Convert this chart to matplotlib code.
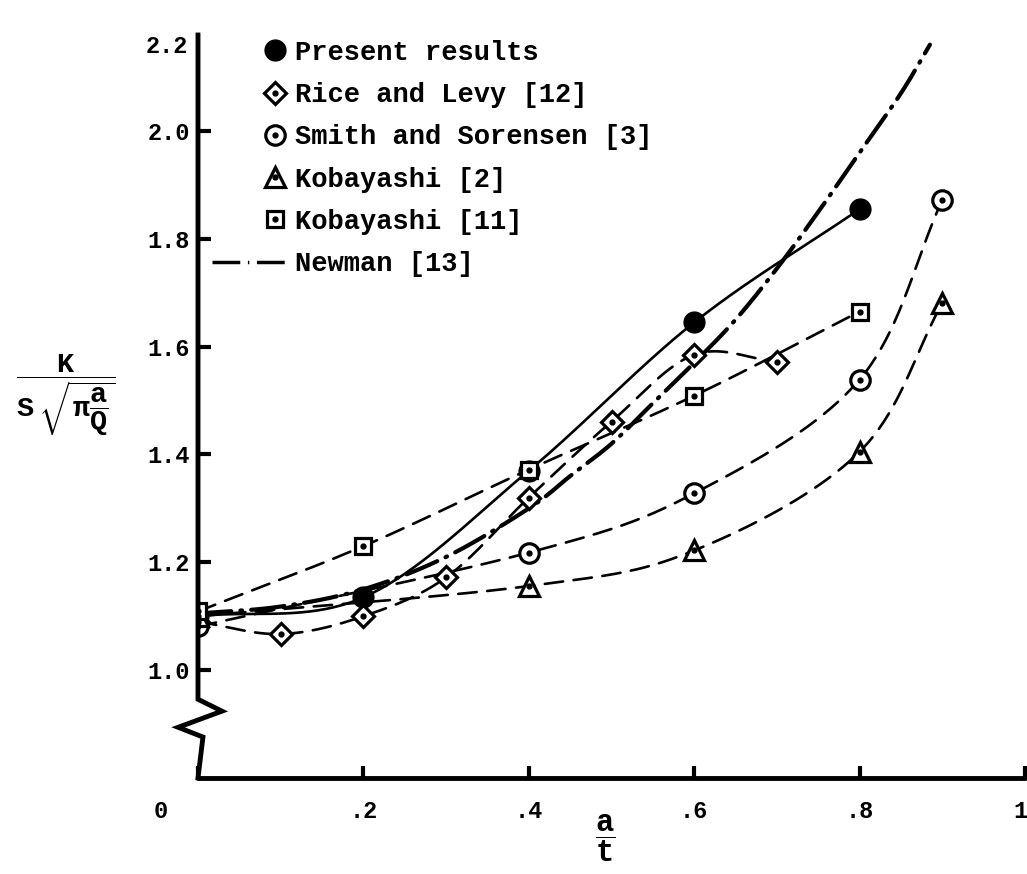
import numpy as np
import matplotlib
matplotlib.use('Agg')
import matplotlib.pyplot as plt
from matplotlib.lines import Line2D
from matplotlib.legend_handler import HandlerTuple, HandlerLine2D
import matplotlib.transforms as mtransforms

plt.rcParams['font.family'] = ['Liberation Mono', 'DejaVu Sans']
plt.rcParams['font.weight'] = 'bold'
plt.rcParams['mathtext.fontset'] = 'custom'
plt.rcParams['mathtext.rm'] = 'Liberation Mono:bold'
plt.rcParams['mathtext.it'] = 'Liberation Mono:bold'
plt.rcParams['mathtext.bf'] = 'Liberation Mono:bold'

# ---------------- data ----------------
present_x = [0.0, 0.2, 0.4, 0.6, 0.8]
present_y = [1.10, 1.135, 1.37, 1.645, 1.855]

rice_x = [0.0, 0.1, 0.2, 0.3, 0.4, 0.5, 0.6, 0.7]
rice_y = [1.09, 1.067, 1.10, 1.172, 1.32, 1.461, 1.585, 1.572]

smith_x = [0.0, 0.4, 0.6, 0.8, 0.9]
smith_y = [1.081, 1.218, 1.328, 1.539, 1.872]

koba2_x = [0.0, 0.4, 0.6, 0.8, 0.9]
koba2_y = [1.10, 1.156, 1.222, 1.405, 1.681]

koba11_x = [0.0, 0.2, 0.4, 0.6, 0.8]
koba11_y = [1.109, 1.23, 1.372, 1.509, 1.665]

newman_x = [0.0, 0.1, 0.2, 0.3, 0.4, 0.45, 0.5, 0.55, 0.6, 0.65, 0.7, 0.75, 0.8, 0.85, 0.885]
newman_y = [1.105, 1.118, 1.15, 1.21, 1.30, 1.36, 1.42, 1.495, 1.57, 1.65, 1.745, 1.85, 1.96, 2.07, 2.16]

xticks = [0.0, 0.2, 0.4, 0.6, 0.8, 1.0]
xticklabels = ['0', '.2', '.4', '.6', '.8', '1']
yticks = [1.0, 1.2, 1.4, 1.6, 1.8, 2.0]
yticklabels = ['1.0', '1.2', '1.4', '1.6', '1.8', '2.0']

labels = ['Present results', 'Rice and Levy [12]', 'Smith and Sorensen [3]',
          'Kobayashi [2]', 'Kobayashi [11]', 'Newman [13]']


def smooth(xs, ys, n=40):
    """Catmull-Rom curve through the given points (for drawing only)."""
    P = np.column_stack([xs, ys]).astype(float)
    P = np.vstack([2 * P[0] - P[1], P, 2 * P[-1] - P[-2]])
    out = []
    t = np.linspace(0, 1, n, endpoint=False)[:, None]
    for i in range(1, len(P) - 2):
        p0, p1, p2, p3 = P[i - 1], P[i], P[i + 1], P[i + 2]
        seg = 0.5 * ((2 * p1) + (-p0 + p2) * t + (2 * p0 - 5 * p1 + 4 * p2 - p3) * t ** 2
                     + (-p0 + 3 * p1 - 3 * p2 + p3) * t ** 3)
        out.append(seg)
    out.append(P[-2][None])
    c = np.vstack(out)
    return c[:, 0], c[:, 1]


fig = plt.figure(figsize=(10.27, 8.74), dpi=100)
ax = fig.add_axes([198 / 1027, 96 / 874, 827 / 1027, (874 - 96 - 35) / 874])
ax.set_xlim(0, 1.0)
ax.set_ylim(0.8, 2.178)

LW = 1.9
dash = (7, 4)
ms = 14
NEWMAN_DASH = (8, 2.2, 0.4, 2.2)

# curves
xs, ys = smooth(present_x, present_y)
ax.plot(xs, ys, color='black', lw=LW, solid_capstyle='round')
for sx, sy in [(rice_x, rice_y), (smith_x, smith_y), (koba2_x, koba2_y), (koba11_x, koba11_y)]:
    xs, ys = smooth(sx, sy)
    ax.plot(xs, ys, color='black', lw=LW, dashes=dash, dash_capstyle='round')
xs, ys = smooth(newman_x, newman_y, n=10)
ax.plot(xs, ys, color='black', lw=3.0, dashes=NEWMAN_DASH, dash_capstyle='round')

# markers
ax.plot(present_x, present_y, 'o', ms=ms + 1, color='black', zorder=5)
def open_marker(x, y, m, size):
    ax.plot(x, y, m, ms=size, mfc='white', mec='black', mew=2.3, ls='none', zorder=5)
    ax.plot(x, y, 'o', ms=3.5, color='black', ls='none', zorder=6)
open_marker(rice_x, rice_y, 'D', ms - 3)
open_marker(smith_x, smith_y, 'o', ms)
open_marker(koba2_x, koba2_y, '^', ms)
open_marker(koba11_x, koba11_y, 's', ms - 2)

# axes styling
for s in ['top', 'right', 'left']:
    ax.spines[s].set_visible(False)
ax.spines['bottom'].set_linewidth(3.5)
ax.spines['bottom'].set_capstyle('round')

# left axis with break (zigzag)
tr = mtransforms.blended_transform_factory(ax.transAxes, ax.transData)
zz_x = [0, 0, 0, 0.029, -0.024, 0.006, 0]
zz_y = [2.178, 1.0, 0.946, 0.924, 0.894, 0.876, 0.8]
ax.add_line(Line2D(zz_x, zz_y, transform=tr, color='black', lw=3.5,
                   solid_joinstyle='miter', clip_on=False, zorder=7))

ax.set_xticks(xticks)
ax.set_xticklabels(xticklabels)
ax.set_yticks(yticks)
ax.set_yticklabels(yticklabels)
ax.tick_params(axis='both', direction='in', length=9, width=3, labelsize=17)
ax.tick_params(axis='x', pad=16)
ax.tick_params(axis='y', pad=6)
# '0' label sits left of the origin in the original, '1' right at the edge
xl = ax.get_xticklabels()
xl[0].set_transform(xl[0].get_transform() + mtransforms.ScaledTranslation(-0.37, 0, fig.dpi_scale_trans))
xl[-1].set_transform(xl[-1].get_transform() + mtransforms.ScaledTranslation(-0.05, 0, fig.dpi_scale_trans))

ax.text(-0.012, 0.985, '2.2', transform=ax.transAxes, ha='right', va='center', fontsize=17)

# axis titles
fig.text(605 / 1027, 1 - 838 / 874, r'$\dfrac{a}{t}$', ha='center', va='center', fontsize=22)
fig.text(66 / 1027, 1 - 395 / 874, r'$\dfrac{K}{S\ \sqrt{\pi\dfrac{a}{Q}}}$',
         ha='center', va='center', fontsize=20.5)


# legend
class RightMarker(HandlerLine2D):
    def create_artists(self, legend, orig_handle, xdescent, ydescent, width, height, fontsize, trans):
        arts = super().create_artists(legend, orig_handle, xdescent, ydescent, width, height, fontsize, trans)
        if orig_handle.get_marker() not in (None, 'None', '', ' '):
            for a in arts:
                a.set_xdata(np.asarray(a.get_xdata(), dtype=float) + 0.33 * width)
        return arts


def mk(m, size, filled=False):
    if filled:
        return Line2D([], [], marker=m, ms=size, color='black', ls='none')
    return (Line2D([], [], marker=m, ms=size, mfc='white', mec='black', mew=2.3, ls='none'),
            Line2D([], [], marker='o', ms=3.5, color='black', ls='none'))

handles = [mk('o', ms + 1, True), mk('D', ms - 3), mk('o', ms), mk('^', ms), mk('s', ms - 2),
           Line2D([], [], color='black', lw=2.5, dashes=NEWMAN_DASH)]
leg = ax.legend(handles, labels, loc='upper left', bbox_to_anchor=(0.004, 1.008),
                frameon=False, fontsize=19.5, handlelength=2.8, handletextpad=0.25,
                labelspacing=0.6, borderaxespad=0,
                handler_map={tuple: HandlerTuple(ndivide=1, pad=0), Line2D: RightMarker()})

fig.savefig('out.png', dpi=100)
